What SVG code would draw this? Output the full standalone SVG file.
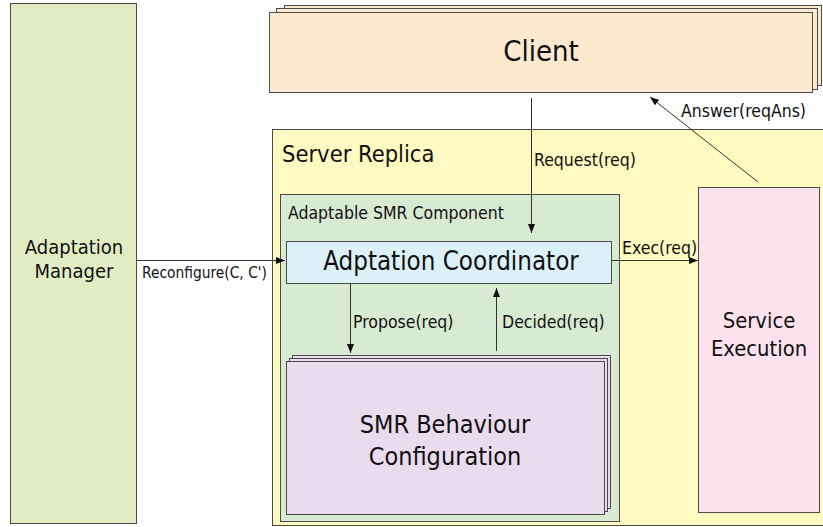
<svg xmlns="http://www.w3.org/2000/svg" width="823" height="527" viewBox="0 0 823 527">
  <style>
    text { font-family: "DejaVu Sans Condensed", "DejaVu Sans", sans-serif; font-stretch: condensed; fill: #111; }
    .box { stroke: #4a4a4a; stroke-width: 1; }
    .lbl { font-size: 17.5px; }
    .mid { text-anchor: middle; }
    .edge { stroke: #333; stroke-width: 1; fill: none; marker-end: url(#arrow); }
  </style>
  <defs>
    <marker id="arrow" markerUnits="userSpaceOnUse" markerWidth="10" markerHeight="8" refX="9" refY="4" orient="auto">
      <path d="M0,0.5 L9,4 L0,7.5 z" fill="#111"/>
    </marker>
  </defs>
  <rect width="823" height="527" fill="#ffffff"/>

  <!-- Adaptation Manager -->
  <g id="adaptation-manager">
    <rect class="box" x="10.5" y="3.5" width="126" height="520" fill="#e2ecc3"/>
    <text class="mid" x="74" y="254" font-size="20">Adaptation</text>
    <text class="mid" x="74" y="278" font-size="20">Manager</text>
  </g>

  <!-- Client (stacked instances) -->
  <g id="client">
    <rect class="box" x="284.5" y="5.5" width="537" height="80" fill="#fde8d0"/>
    <rect class="box" x="276.5" y="8.5" width="541" height="81" fill="#fde8d0"/>
    <rect class="box" x="269.5" y="12.5" width="543" height="80" fill="#fde8d0"/>
    <text class="mid" x="541" y="61" font-size="29">Client</text>
  </g>

  <!-- Server Replica container -->
  <g id="server-replica">
    <rect class="box" x="272.5" y="129.5" width="560" height="396" fill="#fff9c2"/>
    <text x="282" y="162" font-size="23.5">Server Replica</text>
  </g>

  <!-- Adaptable SMR Component container -->
  <g id="adaptable-smr-component">
    <rect class="box" x="280.5" y="194.5" width="339" height="327" fill="#d9ead3"/>
    <text class="lbl" x="288" y="219">Adaptable SMR Component</text>
  </g>

  <!-- Adaptation Coordinator -->
  <g id="adaptation-coordinator">
    <rect class="box" x="286.5" y="241.5" width="325" height="42" fill="#dcf0f8"/>
    <text class="mid" x="451" y="270" font-size="25.7">Adptation Coordinator</text>
  </g>

  <!-- SMR Behaviour Configuration (stacked) -->
  <g id="smr-behaviour-configuration">
    <rect class="box" x="292.5" y="355.5" width="318" height="153" fill="#eadcee"/>
    <rect class="box" x="289.5" y="358.5" width="318" height="153" fill="#eadcee"/>
    <rect class="box" x="286.5" y="361.5" width="318" height="153" fill="#eadcee"/>
    <text class="mid" x="445" y="433" font-size="25">SMR Behaviour</text>
    <text class="mid" x="445" y="465" font-size="25">Configuration</text>
  </g>

  <!-- Service Execution -->
  <g id="service-execution">
    <rect class="box" x="698.5" y="187.5" width="121" height="325" fill="#fde2ee"/>
    <text class="mid" x="759" y="328" font-size="21.8">Service</text>
    <text class="mid" x="759" y="356" font-size="21.8">Execution</text>
  </g>

  <!-- Connectors -->
  <g id="connectors">
    <line class="edge" x1="531.5" y1="98" x2="531.5" y2="233"/>
    <line class="edge" x1="758" y1="182" x2="650" y2="97"/>
    <line class="edge" x1="137" y1="260.5" x2="285" y2="260.5"/>
    <line class="edge" x1="612" y1="260.5" x2="698" y2="260.5"/>
    <line class="edge" x1="350.5" y1="284" x2="350.5" y2="353"/>
    <line class="edge" x1="496.5" y1="351" x2="496.5" y2="288"/>
    <text class="lbl" x="681" y="117">Answer(reqAns)</text>
    <text class="lbl" x="534" y="166">Request(req)</text>
    <text class="lbl" x="622" y="254">Exec(req)</text>
    <text x="142" y="278" font-size="16" textLength="125" lengthAdjust="spacingAndGlyphs">Reconfigure(C, C')</text>
    <text class="lbl" x="353" y="328">Propose(req)</text>
    <text class="lbl" x="502" y="328">Decided(req)</text>
  </g>
</svg>
